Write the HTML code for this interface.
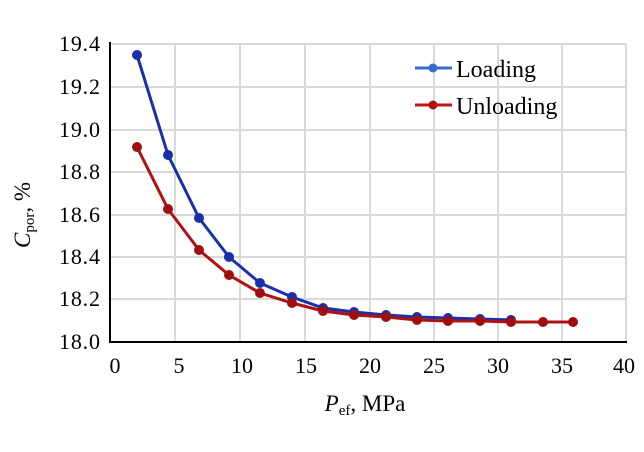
<!DOCTYPE html><html><head><style>body{margin:0;background:#fff}</style></head><body>
<svg width="644" height="447" xmlns="http://www.w3.org/2000/svg" font-family="Liberation Serif, serif">
<g stroke="#d9d9d9" stroke-width="2">
<line x1="175" y1="44" x2="175" y2="342"/><line x1="240" y1="44" x2="240" y2="342"/><line x1="305" y1="44" x2="305" y2="342"/><line x1="370" y1="44" x2="370" y2="342"/><line x1="434" y1="44" x2="434" y2="342"/><line x1="498" y1="44" x2="498" y2="342"/><line x1="562" y1="44" x2="562" y2="342"/><line x1="626" y1="44" x2="626" y2="342"/>
<line x1="110" y1="44" x2="626" y2="44"/><line x1="110" y1="87" x2="626" y2="87"/><line x1="110" y1="130" x2="626" y2="130"/><line x1="110" y1="172" x2="626" y2="172"/><line x1="110" y1="215" x2="626" y2="215"/><line x1="110" y1="257" x2="626" y2="257"/><line x1="110" y1="299" x2="626" y2="299"/>
</g>
<path d="M110 42V342H627" fill="none" stroke="#000" stroke-width="2"/>
<g font-size="22" text-anchor="end" fill="#000">
<text x="100" y="51" textLength="41">19.4</text><text x="100" y="94" textLength="41">19.2</text><text x="100" y="137" textLength="41">19.0</text><text x="100" y="179" textLength="41">18.8</text><text x="100" y="222" textLength="41">18.6</text><text x="100" y="264" textLength="41">18.4</text><text x="100" y="306" textLength="41">18.2</text><text x="100" y="349" textLength="41">18.0</text>
</g>
<g font-size="22" text-anchor="middle" fill="#000">
<text x="115" y="373">0</text><text x="179" y="373">5</text><text x="242" y="373">10</text><text x="306" y="373">15</text><text x="370" y="373">20</text><text x="434" y="373">25</text><text x="498" y="373">30</text><text x="562" y="373">35</text><text x="624" y="373">40</text>
</g>
<text x="365" y="411" font-size="23" text-anchor="middle"><tspan font-style="italic">P</tspan><tspan font-size="15" dy="4">ef</tspan><tspan dy="-4">, MPa</tspan></text>
<text transform="translate(30,215) rotate(-90)" font-size="23" text-anchor="middle"><tspan font-style="italic">C</tspan><tspan font-size="15" dy="4">por</tspan><tspan dy="-4">,  %</tspan></text>
<polyline fill="none" stroke="#1a2fa8" stroke-width="3" points="137,55 168,155 199,218 229,257 260,283 292,297 323,308 354,312 386,315 417,317 448,318 480,319 511,320"/>
<g fill="#1a2fa8"><circle cx="137" cy="55" r="5"/><circle cx="168" cy="155" r="5"/><circle cx="199" cy="218" r="5"/><circle cx="229" cy="257" r="5"/><circle cx="260" cy="283" r="5"/><circle cx="292" cy="297" r="5"/><circle cx="323" cy="308" r="5"/><circle cx="354" cy="312" r="5"/><circle cx="386" cy="315" r="5"/><circle cx="417" cy="317" r="5"/><circle cx="448" cy="318" r="5"/><circle cx="480" cy="319" r="5"/><circle cx="511" cy="320" r="5"/></g>
<polyline fill="none" stroke="#b01010" stroke-width="3" points="137,147 168,209 199,250 229,275 260,293 292,303 323,311 354,315 386,317 417,320 448,321 480,321 511,322 543,322 573,322"/>
<g fill="#a00f0f"><circle cx="137" cy="147" r="5"/><circle cx="168" cy="209" r="5"/><circle cx="199" cy="250" r="5"/><circle cx="229" cy="275" r="5"/><circle cx="260" cy="293" r="5"/><circle cx="292" cy="303" r="5"/><circle cx="323" cy="311" r="5"/><circle cx="354" cy="315" r="5"/><circle cx="386" cy="317" r="5"/><circle cx="417" cy="320" r="5"/><circle cx="448" cy="321" r="5"/><circle cx="480" cy="321" r="5"/><circle cx="511" cy="322" r="5"/><circle cx="543" cy="322" r="5"/><circle cx="573" cy="322" r="5"/></g>
<line x1="415" y1="68" x2="452" y2="68" stroke="#3a6ad0" stroke-width="3"/><circle cx="433" cy="68" r="4.5" fill="#3a6ad0"/>
<line x1="415" y1="105" x2="452" y2="105" stroke="#c01515" stroke-width="3"/><circle cx="433" cy="105" r="4.5" fill="#b01010"/>
<text x="456" y="77" font-size="24">Loading</text>
<text x="456" y="114" font-size="24">Unloading</text>
</svg></body></html>
